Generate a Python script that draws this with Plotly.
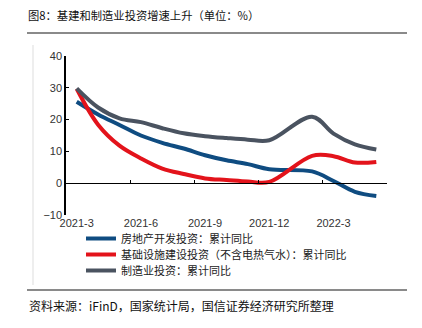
import plotly.graph_objects as go

months = ["2021-3", "2021-4", "2021-5", "2021-6", "2021-7", "2021-8", "2021-9",
          "2021-10", "2021-11", "2021-12", "2022-2", "2022-3", "2022-4", "2022-5"]
real_estate = [25.6, 21.6, 18.3, 15.0, 12.7, 10.9, 8.8, 7.2, 6.0, 4.4, 3.7, 0.7, -2.7, -4.0]
infra = [29.7, 18.4, 11.8, 7.8, 4.6, 2.9, 1.5, 1.0, 0.5, 0.4, 8.6, 8.5, 6.5, 6.7]
manufacturing = [29.8, 23.8, 20.4, 19.2, 17.3, 15.7, 14.8, 14.2, 13.7, 13.5, 20.9, 15.6, 12.2, 10.6]
names = ["房地产开发投资：累计同比", "基础设施建设投资（不含电热气水）：累计同比", "制造业投资：累计同比"]
tick_labels = ["2021-3", "2021-6", "2021-9", "2021-12", "2022-3"]
y_ticks = [-10, 0, 10, 20, 30, 40]

def month_index(s):
    y, m = s.split("-")
    return (int(y) - 2021) * 12 + int(m) - 3

x = [month_index(m) for m in months]
tick_pos = [month_index(t) for t in tick_labels]
boundaries = [p - 0.5 for p in tick_pos[1:]] + [tick_pos[-1] + 2.5]

FONT = "Noto Sans CJK SC, Liberation Sans, Arial"
colors = ["#0f4c81", "#e3131b", "#4a5360"]
legend_ids = ["legend", "legend2", "legend3"]

def px_x(p):
    return (p - 66) / 321

def px_y(p):
    return (215 - p) / 159

fig = go.Figure()
for vals, name, c, lg in zip([real_estate, infra, manufacturing], names, colors, legend_ids):
    fig.add_trace(go.Scatter(x=x, y=vals, name=name, mode="lines", legend=lg,
                             line=dict(color=c, width=4, shape="spline", smoothing=1.0)))
# dummy trace for the zero-axis
fig.add_trace(go.Scatter(x=[None], y=[None], xaxis="x2", showlegend=False, hoverinfo="skip"))

legend_rows = [238.5, 254.5, 270.5]
legend_style = {}
for lg, row in zip(legend_ids, legend_rows):
    legend_style[lg] = dict(x=px_x(81), y=px_y(row), xanchor="left", yanchor="middle",
                            font=dict(family=FONT, size=11, color="#222"),
                            bgcolor="rgba(0,0,0,0)")

fig.update_layout(
    width=422, height=328,
    margin=dict(l=66, r=35, t=56, b=113),
    paper_bgcolor="white", plot_bgcolor="white",
    font=dict(family=FONT, size=11, color="#333"),
    title=dict(text="图8：基建和制造业投资增速上升（单位：%）", x=28/422, xanchor="left",
               y=1 - 16/328, yanchor="middle", yref="container",
               font=dict(family=FONT, size=11.3, color="#111")),
    xaxis=dict(range=[-0.5, 14.5], tickvals=tick_pos, ticktext=tick_labels,
               showline=False, ticks="", showgrid=False, zeroline=False,
               tickfont=dict(family="Liberation Sans, Arial", size=11, color="#333")),
    xaxis2=dict(range=[-0.5, 14.5], overlaying="x", anchor="free", position=0.2,
                side="bottom", showline=True, linecolor="black", linewidth=1,
                ticks="inside", ticklen=3, tickcolor="black", tickvals=boundaries,
                showticklabels=False, showgrid=False, zeroline=False),
    yaxis=dict(range=[-10, 40], tickvals=y_ticks, showline=True, linecolor="black",
               linewidth=1.5, ticks="inside", ticklen=3, tickcolor="black",
               showgrid=False, zeroline=False,
               tickfont=dict(family="Liberation Sans, Arial", size=11, color="#333")),
    showlegend=True,
    **legend_style,
)

fig.add_shape(type="line", xref="paper", yref="paper", x0=px_x(27), x1=px_x(407),
              y0=px_y(33), y1=px_y(33), line=dict(color="#8a8a8a", width=2))
fig.add_shape(type="line", xref="paper", yref="paper", x0=px_x(27), x1=px_x(407),
              y0=px_y(290), y1=px_y(290), line=dict(color="#8a8a8a", width=2))
fig.add_shape(type="line", xref="paper", yref="paper", x0=px_x(33), x1=px_x(33),
              y0=px_y(45), y1=px_y(285), line=dict(color="#dddddd", width=1))
fig.add_annotation(text="资料来源：iFinD，国家统计局，国信证券经济研究所整理", xref="paper", yref="paper",
                   x=px_x(27), y=px_y(305), xanchor="left", yanchor="middle", showarrow=False,
                   font=dict(family=FONT, size=12, color="#111"))

fig.write_html("out.html")
